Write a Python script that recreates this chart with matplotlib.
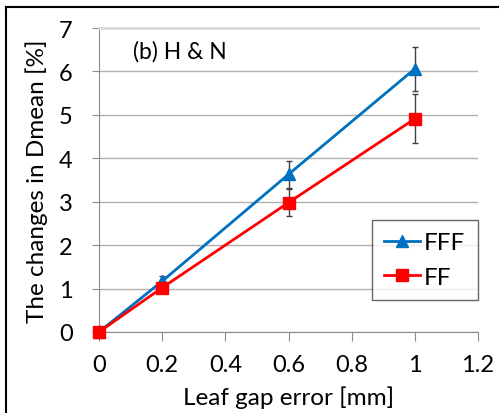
import matplotlib
matplotlib.use('Agg')
import matplotlib.pyplot as plt
from matplotlib.lines import Line2D

plt.rcParams['font.family'] = ['Lato', 'DejaVu Sans']

# data
gap = [0, 0.2, 0.6, 1.0]
fff = [0, 1.17, 3.63, 6.06]
fff_err = [0, 0.12, 0.31, 0.51]
ff = [0, 1.02, 2.98, 4.91]
ff_err = [0, 0.05, 0.32, 0.56]

xticks = [0, 0.2, 0.4, 0.6, 0.8, 1, 1.2]
xticklabels = ['0', '0.2', '0.4', '0.6', '0.8', '1', '1.2']

fig = plt.figure(figsize=(4.99, 4.14), dpi=100)
ax = fig.add_axes([99 / 499, 1 - 333 / 414, (478 - 99) / 499, (333 - 29) / 414])

# frame of the picture (only left and top visible)
fig.add_artist(Line2D([5.5 / 499, 5.5 / 499], [0, 1 - 8 / 414], color='black', lw=1.5))
fig.add_artist(Line2D([5.5 / 499, 1], [1 - 8 / 414, 1 - 8 / 414], color='black', lw=1.5))

ax.errorbar(gap, fff, yerr=fff_err, color='#0070C0', marker='^', ms=9, lw=2,
            ecolor='#404040', elinewidth=1, capsize=2.5, label='FFF', zorder=3)
ax.errorbar(gap, ff, yerr=ff_err, color='#FF0000', marker='s', ms=9, lw=2,
            ecolor='#404040', elinewidth=1, capsize=2.5, label='FF', zorder=4)

ax.set_xlim(0, 1.2)
ax.set_ylim(0, 7)
ax.set_xticks(xticks)
ax.set_xticklabels(xticklabels)
ax.set_yticks(range(8))
ax.yaxis.grid(True, color='#b0b0b0', lw=1)
ax.set_axisbelow(True)
ax.spines['right'].set_visible(False)
ax.spines['top'].set_color('#d9d9d9')
ax.spines['top'].set_linewidth(2)
ax.spines['left'].set_color('#8c8c8c')
ax.spines['bottom'].set_color('#8c8c8c')
ax.tick_params(axis='both', colors='#8c8c8c', labelcolor='black', labelsize=17,
               direction='out')
ax.tick_params(axis='y', length=5, pad=14)
ax.tick_params(axis='x', length=6.5, pad=9)

ax.set_xlabel('Leaf gap error [mm]', fontsize=17.5, labelpad=8)
ax.set_ylabel('The changes in Dmean [%]', fontsize=17.5, labelpad=8)
ax.text(0.09, 0.924, '(b) H & N', transform=ax.transAxes, fontsize=16.5,
        ha='left', va='center')

handles, labels = ax.get_legend_handles_labels()
handles = [h[0] for h in handles]
leg = ax.legend(handles, labels, loc='upper left', bbox_to_anchor=(0.72, 0.368),
                fontsize=17.5, frameon=True, fancybox=False, edgecolor='#404040',
                handlelength=1.5, handletextpad=0.15, borderpad=0.5,
                labelspacing=0.55, borderaxespad=0)
leg.get_frame().set_linewidth(1)

for line in ax.lines:
    line.set_clip_on(False)

fig.savefig('out.png', dpi=100)
